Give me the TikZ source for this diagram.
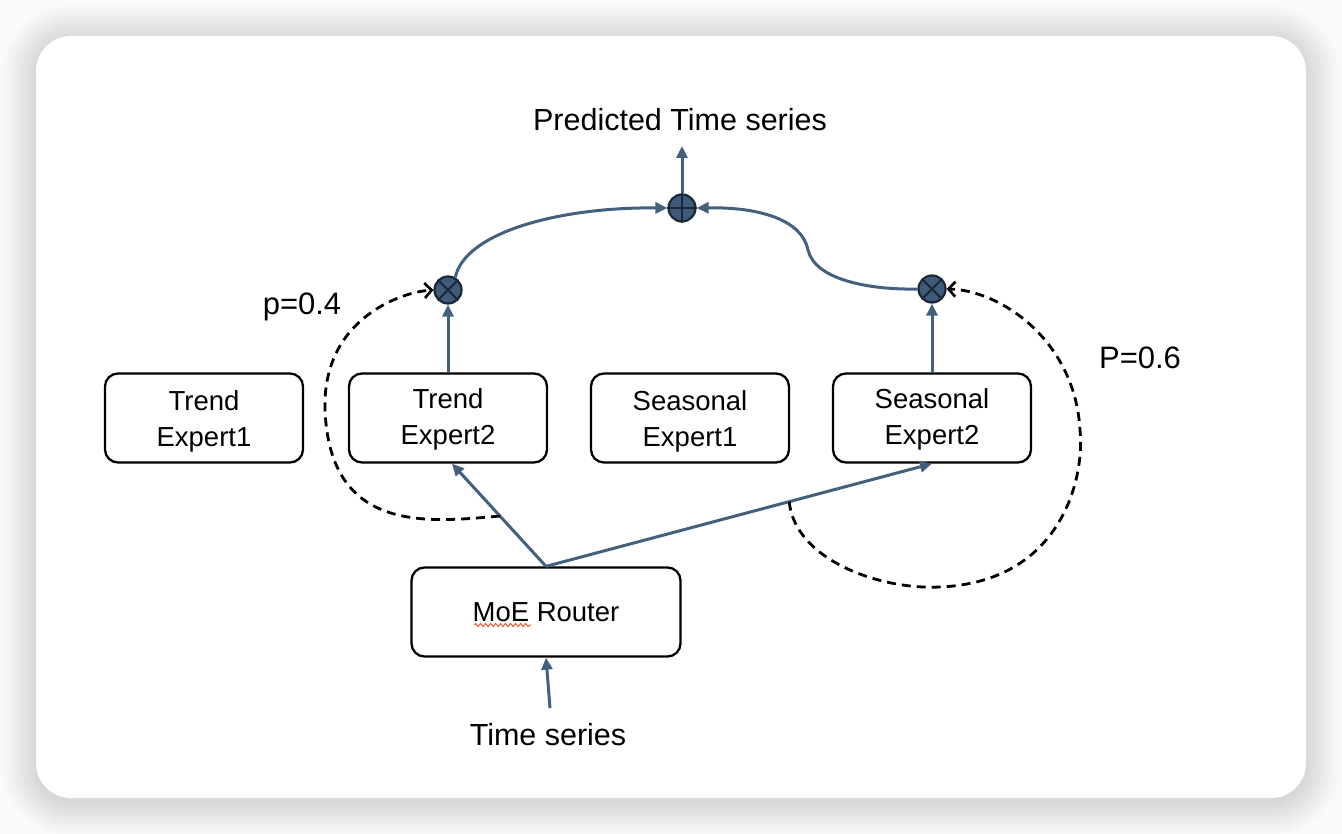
\documentclass[tikz,border=0pt]{standalone}
\usepackage{fontspec}
\setmainfont{Liberation Sans}
\usetikzlibrary{arrows.meta,decorations.pathmorphing,calc}
\definecolor{arr}{HTML}{44607F}
\definecolor{circfill}{HTML}{3F5B7B}
\definecolor{circline}{HTML}{1B2636}
\definecolor{squig}{HTML}{E0603A}
\definecolor{bgc}{HTML}{FAFAFA}
\newcommand{\tallstrut}{\rule{0pt}{27pt}}
\newcommand{\midstrut}{\rule{0pt}{23pt}}
\begin{document}
\begin{tikzpicture}[x=1pt,y=-1pt,
  expert/.style={draw=black, line width=2.3pt, rounded corners=13pt, minimum width=198pt, minimum height=89pt, align=center, font=\fontsize{27.5}{36}\selectfont},
  bluearrow/.style={draw=arr, line width=3pt, -{Triangle[length=12pt,width=11pt]}},
  dasharrow/.style={draw=black, line width=2.8pt, dash pattern=on 9pt off 6pt, -{Straight Barb[length=7pt,width=15pt,line width=2.6pt]}},
  op/.style={circle, draw=circline, fill=circfill, line width=2.2pt, minimum size=27pt, inner sep=0pt},
  oplines/.style={draw=circline, line width=2pt},
  lbl/.style={font=\fontsize{31}{34}\selectfont}
]
\useasboundingbox (0,0) rectangle (1342,834);
\fill[bgc] (0,0) rectangle (1342,834);
\foreach \i [evaluate=\i as \r using 35+\i] in {1,...,34}
  \fill[black, opacity=0.0036, rounded corners=\r pt] ({36-\i},{39-\i}) rectangle ({1306+\i},{802+\i});
\fill[white, rounded corners=35pt] (36,36) rectangle (1306,798);

\node[expert] (te1) at (204,418) {\tallstrut Trend\\Expert1};
\node[expert] (te2) at (448,418) {\midstrut Trend\\Expert2};
\node[expert] (se1) at (690,418) {\tallstrut Seasonal\\Expert1};
\node[expert] (se2) at (932,418) {\midstrut Seasonal\\Expert2};
\node[expert, minimum width=269pt] (router) at (546,612) {MoE Router};
\node[lbl, font=\fontsize{30.5}{34}\selectfont] (ts) at (548,735) {Time series};
\node[lbl, font=\fontsize{30.5}{34}\selectfont] (pred) at (680,120) {Predicted Time series};
\node[lbl] (p1) at (302,307) {p=0.4};
\node[lbl] (p2) at (1140,358) {P=0.6};

\node[op] (m1) at (448,290) {};
\node[op] (m2) at (932,289) {};
\node[op] (sum) at (682,208) {};
\draw[oplines] (m1.north west) -- (m1.south east) (m1.north east) -- (m1.south west);
\draw[oplines] (m2.north west) -- (m2.south east) (m2.north east) -- (m2.south west);
\draw[oplines] (sum.north) -- (sum.south) (sum.west) -- (sum.east);

\coordinate (tsin) at (550,708);
\coordinate (predout) at (682,146);
\coordinate (sq1) at (474,625);
\coordinate (sq2) at (531,625);
\draw[squig, line width=1pt, decorate, decoration={snake, amplitude=1.6pt, segment length=5pt}] (sq1) -- (sq2);

\draw[bluearrow] (tsin) -- (router.south);
\draw[bluearrow] (router.north) -- ([xshift=4pt]te2.south);
\draw[bluearrow] (router.north) -- (se2.south);
\draw[bluearrow] (te2.north) -- (m1.south);
\draw[bluearrow] (se2.north) -- (m2.south);
\draw[bluearrow] (sum.north) -- (predout);
\draw[bluearrow] (m1.60) .. controls (465,232) and (560,207) .. (sum.west);
\draw[bluearrow] (m2.west) .. controls (870,290) and (815,280) .. (808,250) .. controls (802,220) and (760,207) .. (sum.east);

\coordinate (dl) at ($(router.north)!0.49!([xshift=4pt]te2.south)$);
\coordinate (dr) at ($(router.north)!0.63!(se2.south)$);
\draw[dasharrow] (dl) .. controls (430,522) and (330,535) .. (325,410) .. controls (322,320) and (400,292) .. (m1.west);
\draw[dasharrow] (dr) .. controls (795,560) and (880,590) .. (940,587) .. controls (1060,582) and (1085,480) .. (1080,430) .. controls (1075,340) and (1000,290) .. (m2.east);
\end{tikzpicture}
\end{document}
